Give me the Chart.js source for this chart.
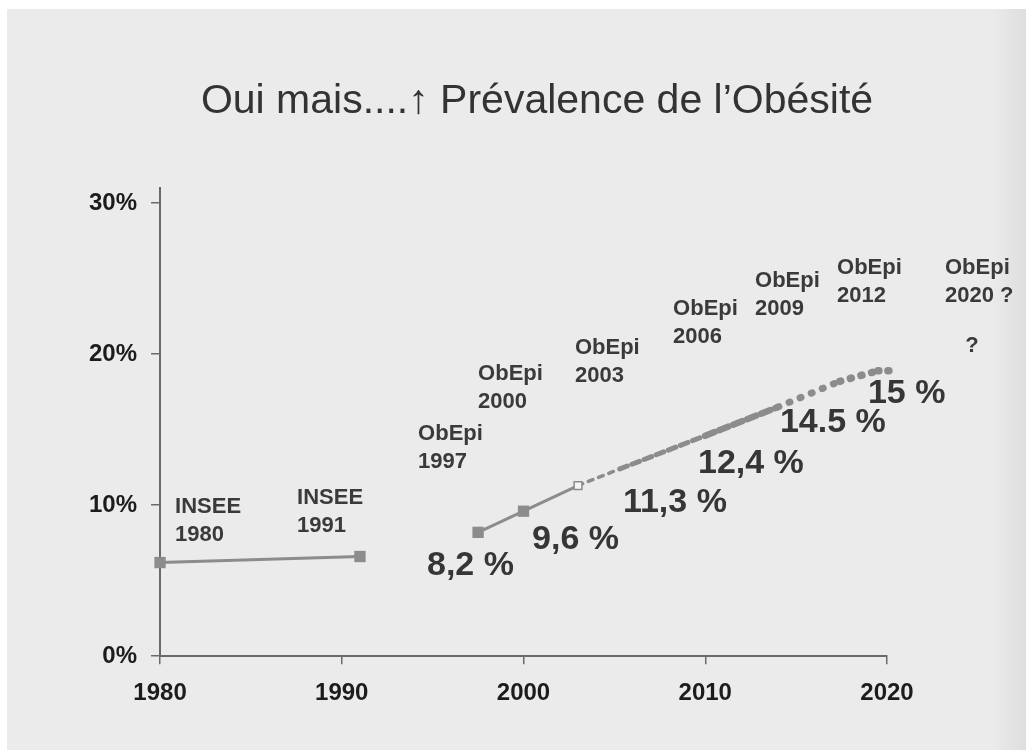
<!DOCTYPE html>
<html>
<head>
<meta charset="utf-8">
<script src="https://cdn.jsdelivr.net/npm/chart.js@4"></script>
<style>
  html, body { margin: 0; padding: 0; background: #fff; }
  #wrap {
    position: absolute; left: 7px; top: 9px; width: 1019px; height: 741px;
    background: linear-gradient(to right, #ebebeb 0, #ebebeb 985px, #dedede 1019px);
  }
</style>
</head>
<body>
<div id="wrap"><canvas id="myChart"></canvas></div>
<script>
// INSEE surveys
const inseeYears = [1980, 1991];
const inseeValues = [6.2, 6.6];

// ObEpi surveys
const obepiYears = [1997.5, 2000, 2003];
const obepiValues = [8.2, 9.6, 11.3];

// projected trend up to 2020
const projYears = [2003, 2005.3, 2010, 2014, 2017.4, 2019.5, 2020.6];
const projValues = [11.3, 12.4, 14.6, 16.5, 18.2, 18.9, 18.9];

const yTicks = [0, 10, 20, 30];

const surveyNotes = [
  { year: 1980.83, pct: 9.51, lines: ['INSEE', '1980'] },
  { year: 1987.54, pct: 10.11, lines: ['INSEE', '1991'] },
  { year: 1994.2, pct: 14.3, lines: ['ObEpi', '1997'] },
  { year: 1997.5, pct: 18.3, lines: ['ObEpi', '2000'] },
  { year: 2002.83, pct: 20.0, lines: ['ObEpi', '2003'] },
  { year: 2008.23, pct: 22.62, lines: ['ObEpi', '2006'] },
  { year: 2012.74, pct: 24.42, lines: ['ObEpi', '2009'] },
  { year: 2017.25, pct: 25.28, lines: ['ObEpi', '2012'] },
  { year: 2023.19, pct: 25.28, lines: ['ObEpi', '2020 ?'] },
];

const rateNotes = [
  { year: 1994.69, pct: 5.39, text: '8,2 %' },
  { year: 2000.47, pct: 7.12, text: '9,6 %' },
  { year: 2005.47, pct: 9.58, text: '11,3 %' },
  { year: 2009.6, pct: 12.11, text: '12,4 %' },
  { year: 2014.11, pct: 14.84, text: '14.5 %' },
  { year: 2018.95, pct: 16.77, text: '15 %' },
];

const FONT = "'Liberation Sans', Arial, Helvetica, sans-serif";
const GREY = '#8c8c8c';

const toPoints = (xs, ys) => xs.map((x, i) => ({ x: x, y: ys[i] }));

// widths / dashes of the projected line, growing towards 2020
const projWidth = [3.5, 5, 6.5, 7, 7.5, 7.5];
const projDash = [[5, 6], [8, 5], [10, 5], [1, 11], [1, 10], [1, 9]];

const notesPlugin = {
  id: 'notes',
  afterDatasetsDraw(chart) {
    const ctx = chart.ctx;
    const xs = chart.scales.x, ys = chart.scales.y;
    ctx.save();
    ctx.textBaseline = 'alphabetic';

    // title
    ctx.fillStyle = '#333';
    ctx.font = '41px ' + FONT;
    ctx.textAlign = 'center';
    ctx.fillText('Oui mais....\u2191 Prévalence de l\u2019Obésité', 530, 104);

    ctx.textAlign = 'left';
    ctx.fillStyle = '#3a3a3a';
    ctx.font = 'bold 22px ' + FONT;
    surveyNotes.forEach(n => {
      const x = xs.getPixelForValue(n.year);
      const y = ys.getPixelForValue(n.pct);
      n.lines.forEach((t, i) => ctx.fillText(t, x, y + i * 28));
    });

    ctx.textAlign = 'center';
    ctx.fillText('?', xs.getPixelForValue(2024.68), ys.getPixelForValue(20.16));

    ctx.textAlign = 'left';
    ctx.fillStyle = '#363636';
    ctx.font = 'bold 34px ' + FONT;
    rateNotes.forEach(n => {
      ctx.fillText(n.text, xs.getPixelForValue(n.year), ys.getPixelForValue(n.pct));
    });
    ctx.restore();
  }
};

const data = {
  datasets: [
    {
      label: 'INSEE',
      data: toPoints(inseeYears, inseeValues),
      borderColor: GREY,
      backgroundColor: GREY,
      borderWidth: 3,
      pointStyle: 'rect',
      pointRadius: 8,
      pointBorderWidth: 0,
      clip: false,
    },
    {
      label: 'ObEpi',
      data: toPoints(obepiYears, obepiValues),
      borderColor: GREY,
      backgroundColor: GREY,
      borderWidth: 3,
      pointStyle: 'rect',
      pointRadius: [8, 8, 5.5],
      pointBackgroundColor: [GREY, GREY, '#f4f4f4'],
      pointBorderColor: GREY,
      pointBorderWidth: [0, 0, 1.5],
      clip: false,
    },
    {
      label: 'Projection',
      data: toPoints(projYears, projValues),
      borderColor: GREY,
      borderWidth: 4,
      pointRadius: 0,
      clip: false,
      borderCapStyle: 'round',
      segment: {
        borderWidth: c => projWidth[c.p0DataIndex],
        borderDash: c => projDash[c.p0DataIndex],
      },
    },
  ]
};

const config = {
  type: 'line',
  data,
  options: {
    responsive: true,
    maintainAspectRatio: false,
    animation: false,
    layout: { padding: { left: 68, right: 139, top: 179, bottom: 27 } },
    plugins: {
      legend: { display: false },
      title: { display: false },
      tooltip: { enabled: false },
    },
    scales: {
      x: {
        type: 'linear',
        min: 1980,
        max: 2020,
        grid: { drawOnChartArea: false, tickLength: 8, color: '#6a6a6a', lineWidth: 1.5 },
        border: { color: '#6a6a6a', width: 2 },
        ticks: {
          stepSize: 10,
          autoSkip: false,
          maxRotation: 0,
          padding: 15,
          color: '#1c1c1c',
          font: { family: FONT, size: 24, weight: 'bold' },
          callback: v => String(v),
        },
      },
      y: {
        min: 0,
        max: 31,
        afterBuildTicks: s => { s.ticks = yTicks.map(v => ({ value: v })); },
        grid: { drawOnChartArea: false, tickLength: 9, color: '#6a6a6a', lineWidth: 1.5 },
        border: { color: '#6a6a6a', width: 2 },
        ticks: {
          padding: 14,
          color: '#1c1c1c',
          font: { family: FONT, size: 24, weight: 'bold' },
          callback: v => v + '%',
        },
      },
    },
  },
  plugins: [notesPlugin],
};

const myChart = new Chart(
  document.getElementById('myChart'),
  config
);
</script>
</body>
</html>
